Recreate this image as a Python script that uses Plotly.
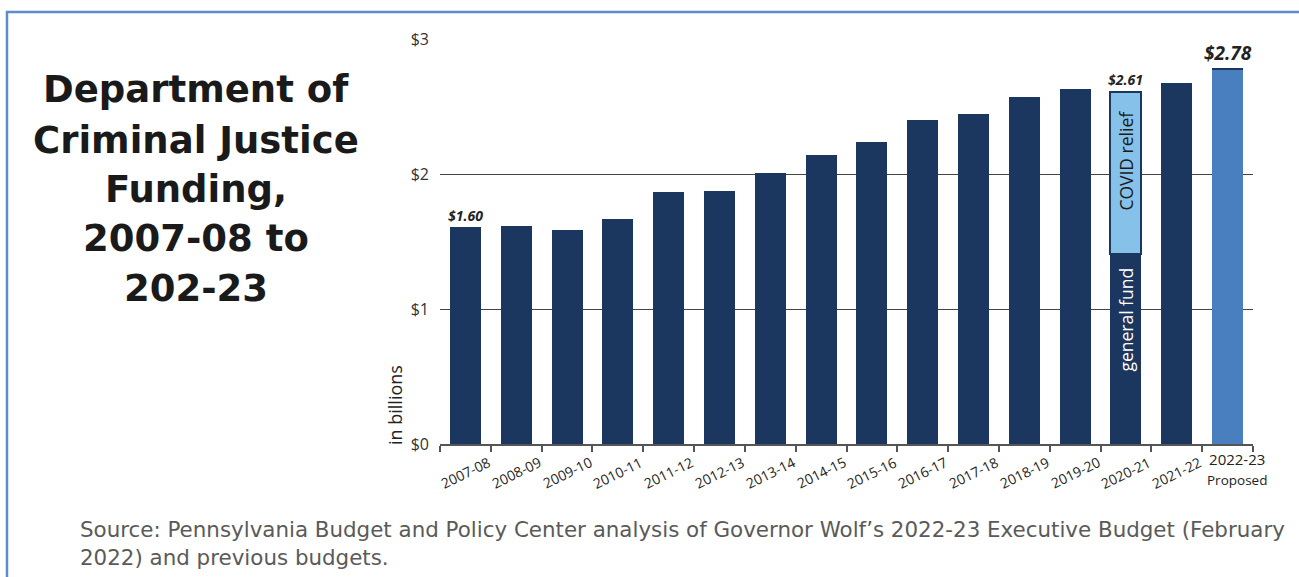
import plotly.graph_objects as go

# Fiscal years and funding (in billions of dollars)
years = ["2007-08", "2008-09", "2009-10", "2010-11", "2011-12", "2012-13",
         "2013-14", "2014-15", "2015-16", "2016-17", "2017-18", "2018-19",
         "2019-20", "2020-21", "2021-22", "2022-23"]
general_fund = [1.60, 1.61, 1.58, 1.66, 1.86, 1.87, 2.00, 2.13, 2.23, 2.39,
                2.44, 2.56, 2.62, 1.41, 2.67, 2.78]
covid_relief = [0, 0, 0, 0, 0, 0, 0, 0, 0, 0, 0, 0, 0, 1.20, 0, 0]
value_labels = {"2007-08": "$1.60", "2020-21": "$2.61", "2022-23": "$2.78"}
y_ticks = [0, 1, 2, 3]
y_tick_text = ["$0", "$1", "$2", "$3"]
title_lines = ["Department of", "Criminal Justice", "Funding,", "2007-08 to", "202-23"]

W, H = 1299, 577
L, R, T, B = 440, 1253, 39, 444

NAVY = "#1b365f"
PROPOSED = "#4a7fbf"
COVID = "#85c1e9"


def px(x):
    return (x - L) / (R - L)


def py(y):
    return (B - y) / (B - T)


bar_colors = [PROPOSED if y == "2022-23" else NAVY for y in years]

fig = go.Figure()
fig.add_trace(go.Bar(
    x=years, y=general_fund, marker=dict(color=bar_colors, line=dict(width=0)),
    hoverinfo="x+y", showlegend=False,
))
fig.add_trace(go.Bar(
    x=years, y=covid_relief,
    marker=dict(color=COVID, line=dict(color=NAVY, width=2)),
    showlegend=False,
))

annotations = []

# Value labels above selected bars
totals = [g + c for g, c in zip(general_fund, covid_relief)]
for yr, txt in value_labels.items():
    i = years.index(yr)
    big = yr == "2022-23"
    annotations.append(dict(
        x=yr, y=totals[i], xref="x", yref="y", text=f"<b><i>{txt}</i></b>",
        showarrow=False, xanchor="center", yanchor="bottom", yshift=1,
        font=dict(family="Open Sans", size=19 if big else 14, color="#222"),
    ))

# Segment labels inside the 2020-21 bar
i20 = years.index("2020-21")
annotations.append(dict(
    x="2020-21", y=totals[i20], xref="x", yref="y",
    text="COVID relief", textangle=-90, showarrow=False,
    xanchor="center", yanchor="top", yshift=-17,
    font=dict(family="Open Sans", size=17.5, color="#1a1a1a"),
))
annotations.append(dict(
    x="2020-21", y=general_fund[i20], xref="x", yref="y",
    text="general fund", textangle=-90, showarrow=False,
    xanchor="center", yanchor="top", yshift=-12,
    font=dict(family="Open Sans", size=17.5, color="white"),
))

# Category labels under the axis
for yr in years:
    if yr == "2022-23":
        annotations.append(dict(
            x=yr, y=py(447), xref="x", yref="paper",
            text="2022-23<br><span style='font-size:13.5px'>Proposed</span>",
            showarrow=False, align="center", xanchor="center", yanchor="top",
            xshift=9, font=dict(family="Open Sans", size=15, color="#222"),
        ))
    else:
        annotations.append(dict(
            x=yr, y=py(472), xref="x", yref="paper", text=yr, textangle=-26,
            showarrow=False, xanchor="center", yanchor="middle",
            font=dict(family="Open Sans", size=14, color="#222"),
        ))

# Y-axis unit label
annotations.append(dict(
    x=px(395), y=py(405), xref="paper", yref="paper", text="in billions",
    textangle=-90, showarrow=False, xanchor="center", yanchor="middle",
    font=dict(family="Open Sans", size=18, color="#222"),
))

# Title block, one annotation per line
for k, line in enumerate(title_lines):
    annotations.append(dict(
        x=px(196), y=py(90 + 50 * k - (2 if k >= 3 else 0)), xref="paper", yref="paper",
        text=f"<b>{line}</b>", showarrow=False, align="center",
        xanchor="center", yanchor="middle",
        font=dict(family="DejaVu Sans", size=37, color="#1a1a1a"),
    ))

# Source note
annotations.append(dict(
    x=px(78), y=py(515), xref="paper", yref="paper", xanchor="left", yanchor="top",
    text="Source: Pennsylvania Budget and Policy Center analysis of Governor Wolf\u2019s "
         "2022-23 Executive Budget (February<br>2022) and previous budgets.",
    showarrow=False, align="left",
    font=dict(family="DejaVu Sans", size=21.4, color="#5a5a5a"),
))

# Frame around the graphic
shapes = [dict(
    type="rect", xref="paper", yref="paper",
    x0=px(7), x1=px(1320), y0=py(600), y1=py(12),
    line=dict(color="#5b8dc9", width=2.5), fillcolor="rgba(0,0,0,0)", layer="below",
)]

fig.update_layout(
    width=W, height=H,
    margin=dict(l=L, r=W - R, t=T, b=H - B),
    barmode="stack", bargap=0.39,
    plot_bgcolor="white", paper_bgcolor="white",
    annotations=annotations, shapes=shapes,
    xaxis=dict(
        type="category", categoryorder="array", categoryarray=years,
        range=[-0.5, len(years) - 0.5], autorange=False,
        showticklabels=False, ticks="outside", tickson="boundaries", ticklen=6,
        tickcolor="#555", tickwidth=1.5, showline=True, linecolor="#555",
        linewidth=1.5, showgrid=False, fixedrange=True,
    ),
    yaxis=dict(
        range=[0, 3], autorange=False, tickvals=y_ticks, ticktext=y_tick_text,
        showgrid=True, gridcolor="#444", gridwidth=1.2, zeroline=False,
        showline=False, ticks="", ticklabelstandoff=10,
        tickfont=dict(family="Open Sans", size=16, color="#333"),
        fixedrange=True,
    ),
)

fig.write_html("out.html")
